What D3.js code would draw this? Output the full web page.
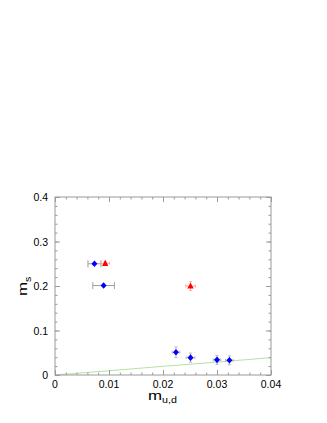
<!DOCTYPE html>
<html><head><meta charset="utf-8">
<script src="https://cdn.jsdelivr.net/npm/d3@7"></script>
<style>body{margin:0;background:#fff}svg{display:block}text{font-family:"Liberation Sans",Arial,sans-serif}</style>
</head><body>
<script>
const blueX = [0.0073, 0.0090, 0.0224, 0.0251, 0.0300, 0.0323];
const blueY = [0.250, 0.201, 0.051, 0.039, 0.034, 0.033];
const blueXerr = [0.0012, 0.0020, 0.0007, 0.0008, 0.0007, 0.0007];
const blueYerr = [0, 0, 0.012, 0.010, 0.010, 0.010];
const redX = [0.0093, 0.0251];
const redY = [0.251, 0.200];
const redXerr = [0.0008, 0.0009];
const redYerr = [0.004, 0.010];
const lineX = [0, 0.01, 0.02, 0.03, 0.04];
const lineY = [0, 0.0095, 0.0195, 0.029, 0.039];
const xTicks = [0, 0.01, 0.02, 0.03, 0.04];
const xTickLabels = ["0", "0.01", "0.02", "0.03", "0.04"];
const yTicks = [0, 0.1, 0.2, 0.3, 0.4];
const yTickLabels = ["0", "0.1", "0.2", "0.3", "0.4"];

const W = 327, H = 423;
const L = 55, R = 271, T = 197, B = 375;
const svg = d3.select("body").append("svg").attr("width", W).attr("height", H);
const x = d3.scaleLinear().domain([0, 0.04]).range([L, R]);
const y = d3.scaleLinear().domain([0, 0.4]).range([B, T]);

const axisCol = "#9a9a9a";
const g = svg.append("g");

// green line
g.append("path").datum(lineX.map((v, i) => [v, lineY[i]]))
  .attr("d", d3.line().x(d => x(d[0])).y(d => y(d[1])))
  .attr("fill", "none").attr("stroke", "#b4e2a4").attr("stroke-width", 1);

// frame
g.append("rect").attr("x", L).attr("y", T).attr("width", R - L).attr("height", B - T)
  .attr("fill", "none").attr("stroke", axisCol).attr("stroke-width", 1);

// ticks via axes
const xMinor = d3.range(0, 0.0401, 0.002);
const yMinor = d3.range(0, 0.401, 0.02);
function ax(axisFn, scale, vals, size, tx) {
  const a = svg.append("g").attr("transform", tx)
    .call(axisFn(scale).tickValues(vals).tickSize(size).tickFormat(""));
  a.select(".domain").remove();
  a.selectAll("line").attr("stroke", axisCol);
  return a;
}
ax(d3.axisTop, x, xMinor, 2.5, `translate(0,${B})`);
ax(d3.axisTop, x, xTicks, 5, `translate(0,${B})`);
ax(d3.axisBottom, x, xMinor, 2.5, `translate(0,${T})`);
ax(d3.axisBottom, x, xTicks, 5, `translate(0,${T})`);
ax(d3.axisRight, y, yMinor, 2.5, `translate(${L},0)`);
ax(d3.axisRight, y, yTicks, 5, `translate(${L},0)`);
ax(d3.axisLeft, y, yMinor, 2.5, `translate(${R},0)`);
ax(d3.axisLeft, y, yTicks, 5, `translate(${R},0)`);

// tick labels
svg.append("g").selectAll("text").data(xTicks).join("text")
  .attr("x", d => x(d)).attr("y", B + 13).attr("text-anchor", "middle")
  .attr("font-size", 10.5).attr("fill", "#000").text((d, i) => xTickLabels[i]);
svg.append("g").selectAll("text").data(yTicks).join("text")
  .attr("x", L - 7).attr("y", d => y(d) + 4).attr("text-anchor", "end")
  .attr("font-size", 10.5).attr("fill", "#000").text((d, i) => yTickLabels[i]);

// axis labels
const xl = svg.append("text").attr("transform", "translate(148,399.5) scale(1.25,1)").attr("font-size", 13.5).attr("fill", "#000");
xl.append("tspan").text("m");
xl.append("tspan").attr("font-size", 8.5).attr("dy", 3.5).text("u,d");
const yl = svg.append("text").attr("transform", "translate(27,296) rotate(-90) scale(1.25,1)").attr("font-size", 13.5).attr("fill", "#000");
yl.append("tspan").text("m");
yl.append("tspan").attr("font-size", 8.5).attr("dy", 3.5).text("s");

// error bars
function errBars(xs, ys, xe, ye, col, capX, capY) {
  const eg = svg.append("g").attr("stroke", col).attr("stroke-width", 1);
  xs.forEach((xv, i) => {
    const cx = x(xv), cy = y(ys[i]);
    if (xe[i] > 0) {
      const x0 = x(xv - xe[i]), x1 = x(xv + xe[i]);
      eg.append("line").attr("x1", x0).attr("x2", x1).attr("y1", cy).attr("y2", cy);
      eg.append("line").attr("x1", x0).attr("x2", x0).attr("y1", cy - capX).attr("y2", cy + capX);
      eg.append("line").attr("x1", x1).attr("x2", x1).attr("y1", cy - capX).attr("y2", cy + capX);
    }
    if (ye[i] > 0) {
      const y0 = y(ys[i] - ye[i]), y1 = y(ys[i] + ye[i]);
      eg.append("line").attr("x1", cx).attr("x2", cx).attr("y1", y0).attr("y2", y1);
      eg.append("line").attr("x1", cx - capY).attr("x2", cx + capY).attr("y1", y0).attr("y2", y0);
      eg.append("line").attr("x1", cx - capY).attr("x2", cx + capY).attr("y1", y1).attr("y2", y1);
    }
  });
}
errBars(blueX.slice(0, 2), blueY.slice(0, 2), blueXerr.slice(0, 2), blueYerr.slice(0, 2), "#a0a0a0", 3.5, 0);
errBars(blueX.slice(2), blueY.slice(2), blueXerr.slice(2), blueYerr.slice(2), "#b8b8b8", 1.5, 1.5);
errBars(redX, redY, redXerr, redYerr, "#ffa8a8", 1.5, 1.5);

// markers
const diamond = { draw(ctx) { ctx.moveTo(0, -3.3); ctx.lineTo(3, 0); ctx.lineTo(0, 3.3); ctx.lineTo(-3, 0); ctx.closePath(); } };
const tri = { draw(ctx) { ctx.moveTo(0, -3.6); ctx.lineTo(3.2, 2.6); ctx.lineTo(-3.2, 2.6); ctx.closePath(); } };
svg.append("g").selectAll("path").data(blueX).join("path")
  .attr("d", d3.symbol(diamond))
  .attr("transform", (d, i) => `translate(${x(d)},${y(blueY[i])})`)
  .attr("fill", "#0000ff");
svg.append("g").selectAll("path").data(redX).join("path")
  .attr("d", d3.symbol(tri))
  .attr("transform", (d, i) => `translate(${x(d)},${y(redY[i])})`)
  .attr("fill", "#ff0000");
</script>
</body></html>
